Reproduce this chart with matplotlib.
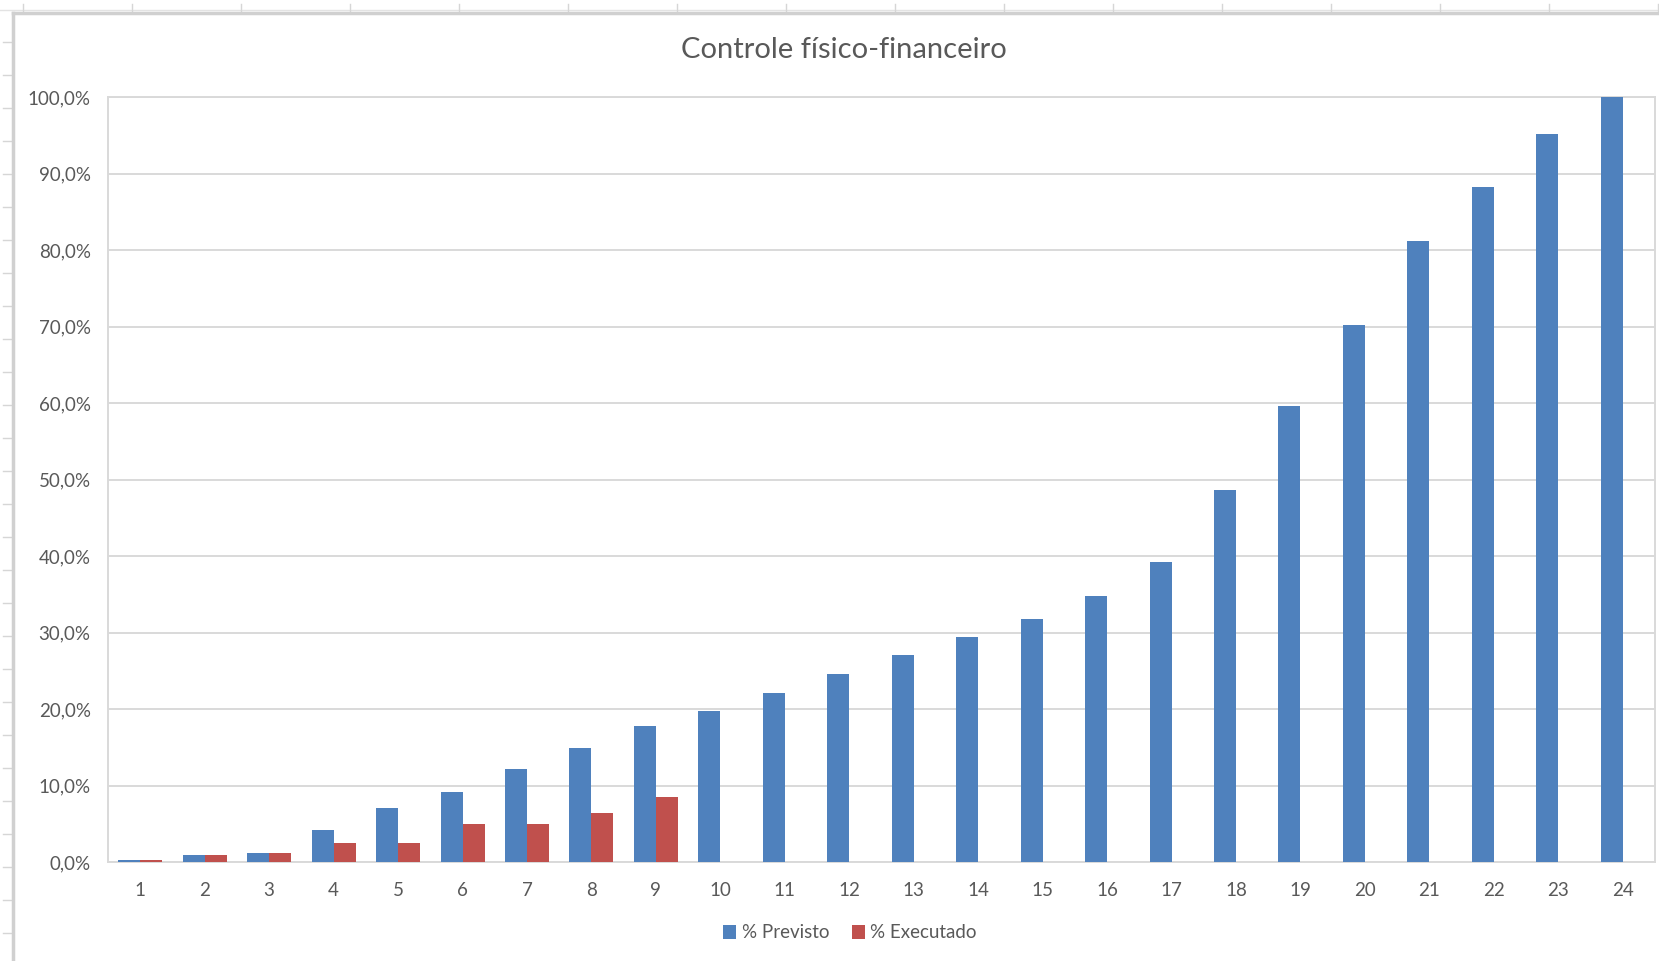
import matplotlib
matplotlib.use("Agg")
import matplotlib.pyplot as plt
from matplotlib.lines import Line2D
from matplotlib.ticker import FuncFormatter

# ---- data ----
categories = list(range(1, 25))
previsto = [0.25, 0.9, 1.2, 4.2, 7.05, 9.2, 12.1, 14.9, 17.8, 19.7, 22.1, 24.6,
            27.0, 29.45, 31.7, 34.8, 39.2, 48.6, 59.65, 70.2, 81.2, 88.2, 95.2, 100.0]
executado = [0.25, 0.9, 1.2, 2.5, 2.5, 5.0, 5.0, 6.45, 8.5]
yticks = [0, 10, 20, 30, 40, 50, 60, 70, 80, 90, 100]
title = "Controle físico-financeiro"
series_names = ["% Previsto", "% Executado"]

BLUE = "#4F81BD"
RED = "#C0504D"
TXT = "#595959"
GRID = "#D9D9D9"

plt.rcParams['font.family'] = ['Lato', 'DejaVu Sans']

W, H = 1659, 961
fig = plt.figure(figsize=(W / 100, H / 100), dpi=100)
fig.patch.set_facecolor("white")

# spreadsheet artefacts around the chart object
def fx(px):
    return px / W

def fy(py):
    return 1 - py / H

fig.add_artist(Line2D([0, 1], [fy(10), fy(10)], color="#E3E3E3", lw=1.0))
for cx in range(23, W, 109):
    fig.add_artist(Line2D([fx(cx), fx(cx)], [fy(4), fy(12)], color="#D6D6D6", lw=1.0))
for ry in range(42, H, 33):
    fig.add_artist(Line2D([fx(3), fx(12)], [fy(ry), fy(ry)], color="#D6D6D6", lw=1.0))
# chart border
fig.add_artist(Line2D([fx(13), fx(13)], [fy(13), 0], color="#D0D0D0", lw=2.5))
fig.add_artist(Line2D([fx(13), 1], [fy(13), fy(13)], color="#D0D0D0", lw=2.5))

ax = fig.add_axes([108 / W, 1 - 862 / H, (1655 - 108) / W, (862 - 97) / H])

bw = 0.341
x = categories
ax.bar([c - bw / 2 for c in x], previsto, width=bw, color=BLUE, label=series_names[0],
       zorder=3, linewidth=0)
ax.bar([c + bw / 2 for c in x[:len(executado)]], executado, width=bw, color=RED,
       label=series_names[1], zorder=3, linewidth=0)

ax.set_xlim(0.5, 24.5)
ax.set_ylim(0, 100)
ax.set_yticks(yticks)
ax.yaxis.set_major_formatter(FuncFormatter(lambda v, p: f"{v:.1f}%".replace(".", ",")))
ax.set_xticks(categories)
ax.set_xticklabels([str(c) for c in categories])
ax.grid(axis="y", color=GRID, lw=1.4, zorder=0)
ax.tick_params(axis="both", length=0, labelsize=13.5, labelcolor=TXT)
ax.tick_params(axis="y", pad=12.5)
ax.tick_params(axis="x", pad=14.5)
for s in ax.spines.values():
    s.set_color(GRID)
    s.set_linewidth(1.4)

fig.text(844 / W, 1 - 50 / H, title, ha="center", va="center", fontsize=21, color=TXT)

leg = fig.legend(loc="center", bbox_to_anchor=(850 / W, 1 - 933 / H), ncol=2, frameon=False,
                 fontsize=13.5, handlelength=0.7, handleheight=0.7, handletextpad=0.3,
                 columnspacing=1.2, labelcolor=TXT)

fig.savefig("out.png", dpi=100)
